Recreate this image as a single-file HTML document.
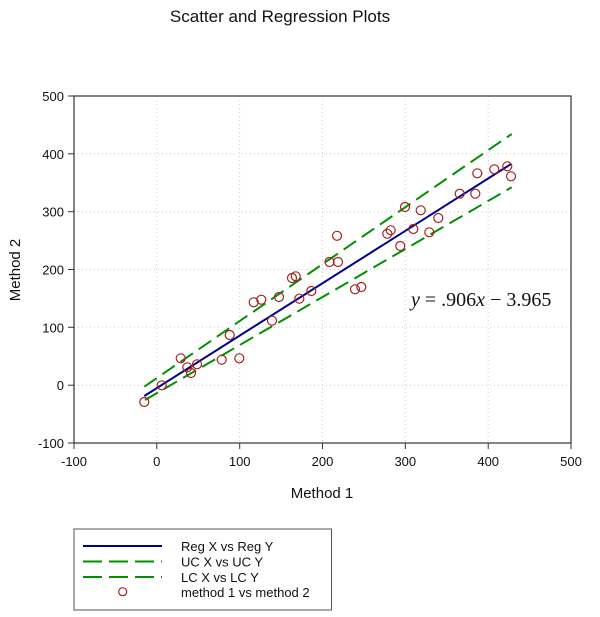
<!DOCTYPE html>
<html><head><style>body{margin:0;background:#fff}svg{display:block}</style></head><body>
<svg width="600" height="617" xmlns="http://www.w3.org/2000/svg" font-family="Liberation Sans, Arial, sans-serif">
<text x="280" y="22" font-size="17" text-anchor="middle" fill="#111">Scatter and Regression Plots</text>
<g stroke="#ccc" stroke-width="1" stroke-dasharray="1,3">
<line x1="156.8" y1="96" x2="156.8" y2="443"/><line x1="239.7" y1="96" x2="239.7" y2="443"/><line x1="322.5" y1="96" x2="322.5" y2="443"/><line x1="405.3" y1="96" x2="405.3" y2="443"/><line x1="488.2" y1="96" x2="488.2" y2="443"/>
<line x1="74" y1="153.8" x2="571" y2="153.8"/><line x1="74" y1="211.7" x2="571" y2="211.7"/><line x1="74" y1="269.5" x2="571" y2="269.5"/><line x1="74" y1="327.3" x2="571" y2="327.3"/><line x1="74" y1="385.2" x2="571" y2="385.2"/>
</g>
<rect x="74" y="96" width="497" height="347" fill="none" stroke="#333" stroke-width="1.2"/>
<g stroke="#333" stroke-width="1">
<line x1="74" y1="443" x2="74" y2="449"/><line x1="156.8" y1="443" x2="156.8" y2="449"/><line x1="239.7" y1="443" x2="239.7" y2="449"/><line x1="322.5" y1="443" x2="322.5" y2="449"/><line x1="405.3" y1="443" x2="405.3" y2="449"/><line x1="488.2" y1="443" x2="488.2" y2="449"/><line x1="571" y1="443" x2="571" y2="449"/>
<line x1="68" y1="96" x2="74" y2="96"/><line x1="68" y1="153.8" x2="74" y2="153.8"/><line x1="68" y1="211.7" x2="74" y2="211.7"/><line x1="68" y1="269.5" x2="74" y2="269.5"/><line x1="68" y1="327.3" x2="74" y2="327.3"/><line x1="68" y1="385.2" x2="74" y2="385.2"/><line x1="68" y1="443" x2="74" y2="443"/>
</g>
<g font-size="13" fill="#111" text-anchor="middle">
<text x="74" y="466">-100</text><text x="156.8" y="466">0</text><text x="239.7" y="466">100</text><text x="322.5" y="466">200</text><text x="405.3" y="466">300</text><text x="488.2" y="466">400</text><text x="571" y="466">500</text>
</g>
<g font-size="13" fill="#111" text-anchor="end">
<text x="64" y="101">500</text><text x="64" y="158.8">400</text><text x="64" y="216.7">300</text><text x="64" y="274.5">200</text><text x="64" y="332.3">100</text><text x="64" y="390.2">0</text><text x="64" y="448">-100</text>
</g>
<text x="322" y="498" font-size="15" text-anchor="middle" fill="#111">Method 1</text>
<text x="20" y="270" font-size="15" text-anchor="middle" fill="#111" transform="rotate(-90 20 270)">Method 2</text>
<line x1="144.3" y1="396" x2="511" y2="164" stroke="#00008b" stroke-width="2"/>
<line x1="144.3" y1="386.7" x2="511.7" y2="134" stroke="#009000" stroke-width="2" stroke-dasharray="15,7"/>
<line x1="145" y1="400" x2="511.7" y2="187.3" stroke="#009000" stroke-width="2" stroke-dasharray="15,7"/>
<g fill="none" stroke="#a52020" stroke-width="1.2">
<circle cx="144.3" cy="402" r="4.5"/><circle cx="161.7" cy="385.3" r="4.5"/><circle cx="180.7" cy="358.3" r="4.5"/><circle cx="187.3" cy="367.3" r="4.5"/><circle cx="191" cy="373" r="4.5"/><circle cx="197" cy="364.3" r="4.5"/><circle cx="221.7" cy="359.7" r="4.5"/><circle cx="229.7" cy="335" r="4.5"/><circle cx="239.3" cy="358.3" r="4.5"/><circle cx="253.7" cy="302.3" r="4.5"/><circle cx="261.3" cy="299.7" r="4.5"/><circle cx="272" cy="320.7" r="4.5"/><circle cx="279" cy="297" r="4.5"/><circle cx="292" cy="278" r="4.5"/><circle cx="295.7" cy="276.3" r="4.5"/><circle cx="299.3" cy="298.7" r="4.5"/><circle cx="311.3" cy="291" r="4.5"/><circle cx="329.5" cy="262" r="4.5"/><circle cx="337" cy="235.8" r="4.5"/><circle cx="338" cy="262" r="4.5"/><circle cx="355" cy="289.3" r="4.5"/><circle cx="361.3" cy="287" r="4.5"/><circle cx="387.3" cy="233.7" r="4.5"/><circle cx="390.7" cy="230.3" r="4.5"/><circle cx="400.3" cy="246" r="4.5"/><circle cx="405" cy="207" r="4.5"/><circle cx="413.3" cy="229" r="4.5"/><circle cx="420.7" cy="210.3" r="4.5"/><circle cx="429.3" cy="232.3" r="4.5"/><circle cx="438.3" cy="218" r="4.5"/><circle cx="459.7" cy="193.7" r="4.5"/><circle cx="475.3" cy="193.7" r="4.5"/><circle cx="477.3" cy="173.3" r="4.5"/><circle cx="494.3" cy="169.3" r="4.5"/><circle cx="507.3" cy="166.3" r="4.5"/><circle cx="511" cy="176.3" r="4.5"/>
</g>
<text x="411" y="306" font-size="20" font-family="Liberation Serif, serif" fill="#111"><tspan font-style="italic">y</tspan> = .906<tspan font-style="italic">x</tspan> − 3.965</text>
<rect x="74" y="529" width="257.5" height="81" fill="none" stroke="#555" stroke-width="1"/>
<line x1="83" y1="546" x2="162" y2="546" stroke="#00008b" stroke-width="2"/>
<line x1="83" y1="561.5" x2="162" y2="561.5" stroke="#009000" stroke-width="2" stroke-dasharray="19,7"/>
<line x1="83" y1="577" x2="162" y2="577" stroke="#009000" stroke-width="2" stroke-dasharray="19,7"/>
<circle cx="122.7" cy="591.7" r="4" fill="none" stroke="#a52020" stroke-width="1.2"/>
<g font-size="13" fill="#111">
<text x="181" y="551">Reg X vs Reg Y</text><text x="181" y="566.5">UC X vs UC Y</text><text x="181" y="582">LC X vs LC Y</text><text x="181" y="597">method 1 vs method 2</text>
</g>
</svg>
</body></html>
